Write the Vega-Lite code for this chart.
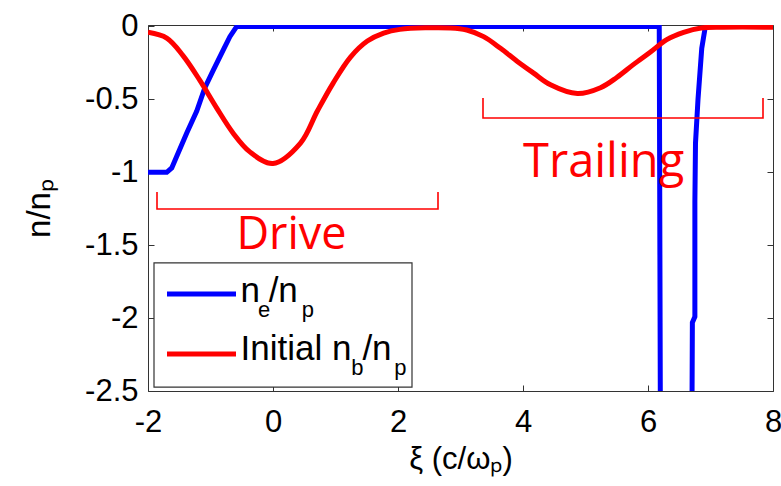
{
  "$schema": "https://vega.github.io/schema/vega-lite/v6.json",
  "width": 625,
  "height": 366,
  "autosize": {"type": "none"},
  "padding": {"left": 148, "top": 25, "right": 8, "bottom": 95},
  "background": "white",
  "config": {
    "view": {"stroke": null},
    "axis": {
      "grid": false,
      "domainColor": "#333333",
      "domainWidth": 1,
      "tickColor": "#333333",
      "tickSize": -6,
      "labelFlush": false,
      "labelFont": "Liberation Sans",
      "labelFontSize": 31,
      "labelColor": "#000000",
      "titleFont": "Liberation Sans",
      "titleFontWeight": "normal",
      "titleColor": "#000000"
    }
  },
  "datasets": {
    "curves": [
      {"series": "ne", "x": -2.0, "y": -1.0},
      {"series": "ne", "x": -1.70, "y": -1.0},
      {"series": "ne", "x": -1.62, "y": -0.97},
      {"series": "ne", "x": -1.54, "y": -0.89},
      {"series": "ne", "x": -1.38, "y": -0.73},
      {"series": "ne", "x": -1.22, "y": -0.58},
      {"series": "ne", "x": -1.09, "y": -0.42},
      {"series": "ne", "x": -0.955, "y": -0.30},
      {"series": "ne", "x": -0.795, "y": -0.16},
      {"series": "ne", "x": -0.69, "y": -0.07},
      {"series": "ne", "x": -0.58, "y": 0.0},
      {"series": "ne", "x": 6.18, "y": 0.0},
      {"series": "ne", "x": 6.20, "y": -3.0},
      {"series": "ne", "x": 6.70, "y": -3.0},
      {"series": "ne", "x": 6.705, "y": -2.5},
      {"series": "ne", "x": 6.71, "y": -2.03},
      {"series": "ne", "x": 6.75, "y": -1.99},
      {"series": "ne", "x": 6.75, "y": -1.2},
      {"series": "ne", "x": 6.76, "y": -0.8},
      {"series": "ne", "x": 6.80, "y": -0.5},
      {"series": "ne", "x": 6.86, "y": -0.15},
      {"series": "ne", "x": 6.91, "y": -0.02},
      {"series": "ne", "x": 6.93, "y": 0.0},
      {"series": "ne", "x": 8.0, "y": 0.0},
      {"series": "nb", "x": -2.0, "y": -0.04},
      {"series": "nb", "x": -1.7, "y": -0.08},
      {"series": "nb", "x": -1.44, "y": -0.20},
      {"series": "nb", "x": -1.17, "y": -0.37},
      {"series": "nb", "x": -0.9, "y": -0.56},
      {"series": "nb", "x": -0.64, "y": -0.73},
      {"series": "nb", "x": -0.37, "y": -0.86},
      {"series": "nb", "x": 0.0, "y": -0.94},
      {"series": "nb", "x": 0.44, "y": -0.80},
      {"series": "nb", "x": 0.71, "y": -0.58},
      {"series": "nb", "x": 0.96, "y": -0.39},
      {"series": "nb", "x": 1.24, "y": -0.21},
      {"series": "nb", "x": 1.51, "y": -0.10},
      {"series": "nb", "x": 1.77, "y": -0.045},
      {"series": "nb", "x": 2.03, "y": -0.02},
      {"series": "nb", "x": 2.84, "y": -0.01},
      {"series": "nb", "x": 3.1, "y": -0.024},
      {"series": "nb", "x": 3.37, "y": -0.07},
      {"series": "nb", "x": 3.64, "y": -0.15},
      {"series": "nb", "x": 3.91, "y": -0.24},
      {"series": "nb", "x": 4.17, "y": -0.32},
      {"series": "nb", "x": 4.44, "y": -0.40},
      {"series": "nb", "x": 4.87, "y": -0.46},
      {"series": "nb", "x": 5.24, "y": -0.42},
      {"series": "nb", "x": 5.5, "y": -0.35},
      {"series": "nb", "x": 5.77, "y": -0.26},
      {"series": "nb", "x": 6.04, "y": -0.175},
      {"series": "nb", "x": 6.3, "y": -0.09},
      {"series": "nb", "x": 6.57, "y": -0.04},
      {"series": "nb", "x": 6.85, "y": -0.01},
      {"series": "nb", "x": 7.2, "y": -0.005},
      {"series": "nb", "x": 8.0, "y": -0.005}
    ],
    "brackets": [
      {"bracket": "drive", "order": 1, "x": -1.856, "y": -1.135},
      {"bracket": "drive", "order": 2, "x": -1.856, "y": -1.252},
      {"bracket": "drive", "order": 3, "x": 2.64, "y": -1.252},
      {"bracket": "drive", "order": 4, "x": 2.64, "y": -1.135},
      {"bracket": "trailing", "order": 1, "x": 3.36, "y": -0.49},
      {"bracket": "trailing", "order": 2, "x": 3.36, "y": -0.628},
      {"bracket": "trailing", "order": 3, "x": 7.84, "y": -0.628},
      {"bracket": "trailing", "order": 4, "x": 7.84, "y": -0.49}
    ],
    "notes": [
      {"name": "drive", "x": 0.296, "y": -1.526, "text": "Drive"},
      {"name": "trailing", "x": 5.29, "y": -1.032, "text": "Trailing"}
    ],
    "box": [
      {"x": -1.904, "x2": 2.224, "y": -1.622, "y2": -2.473}
    ],
    "legendLines": [
      {"series": "ne", "x": -1.696, "x2": -0.592, "y": -1.835},
      {"series": "nb", "x": -1.696, "x2": -0.592, "y": -2.246}
    ],
    "legendText": [
      {"kind": "main", "x": -0.52, "y": -1.890, "text": "n"},
      {"kind": "sub", "x": -0.24, "y": -1.993, "text": "e"},
      {"kind": "main", "x": -0.07, "y": -1.890, "text": "/n"},
      {"kind": "sub", "x": 0.46, "y": -1.993, "text": "p"},
      {"kind": "main", "x": -0.52, "y": -2.287, "text": "Initial n"},
      {"kind": "sub", "x": 1.25, "y": -2.390, "text": "b"},
      {"kind": "main", "x": 1.43, "y": -2.287, "text": "/n"},
      {"kind": "sub", "x": 1.94, "y": -2.390, "text": "p"}
    ]
  },
  "resolve": {"axis": {"x": "independent", "y": "independent"}},
  "layer": [
    {
      "data": {"name": "curves"},
      "transform": [{"filter": "datum.series === 'ne'"}],
      "mark": {"type": "line", "color": "#0000ff", "strokeWidth": 5, "clip": true},
      "encoding": {
        "x": {"field": "x", "type": "quantitative",
          "scale": {"domain": [-2, 8], "nice": false, "zero": false},
          "axis": {"orient": "bottom", "values": [-2, 0, 2, 4, 6, 8], "labelExpr": "toString(datum.value)", "labelPadding": 22, "title": "ξ (c/ωₚ)", "titleFontSize": 31, "titlePadding": 7}},
        "y": {"field": "y", "type": "quantitative",
          "scale": {"domain": [-2.5, 0.01], "nice": false, "zero": false},
          "axis": {"orient": "left", "values": [-2.5, -2, -1.5, -1, -0.5, 0], "labelExpr": "toString(datum.value)", "labelPadding": 16, "title": "n/nₚ", "titleFontSize": 33, "titlePadding": 28}},
        "order": {"field": "x", "type": "quantitative", "sort": null}
      }
    },
    {
      "data": {"name": "curves"},
      "transform": [{"filter": "datum.series === 'nb'"}],
      "mark": {"type": "line", "color": "#ff0000", "strokeWidth": 5, "clip": true, "interpolate": "catmull-rom"},
      "encoding": {
        "x": {"field": "x", "type": "quantitative", "scale": {"domain": [-2, 8], "nice": false, "zero": false}, "axis": null},
        "y": {"field": "y", "type": "quantitative", "scale": {"domain": [-2.5, 0.01], "nice": false, "zero": false}, "axis": null}
      }
    },
    {
      "data": {"name": "curves"},
      "transform": [{"filter": "datum.series === 'nb'"}],
      "mark": {"type": "line", "opacity": 0, "clip": true},
      "encoding": {
        "x": {"field": "x", "type": "quantitative", "scale": {"domain": [-2, 8], "nice": false, "zero": false},
          "axis": {"orient": "top", "values": [-2, 0, 2, 4, 6, 8], "labels": false, "title": null}},
        "y": {"field": "y", "type": "quantitative", "scale": {"domain": [-2.5, 0.01], "nice": false, "zero": false},
          "axis": {"orient": "right", "values": [-2.5, -2, -1.5, -1, -0.5, 0], "labels": false, "title": null}}
      }
    },
    {
      "data": {"name": "brackets"},
      "mark": {"type": "line", "color": "#ff0000", "strokeWidth": 1.6},
      "encoding": {
        "x": {"field": "x", "type": "quantitative", "scale": {"domain": [-2, 8], "nice": false, "zero": false}, "axis": null},
        "y": {"field": "y", "type": "quantitative", "scale": {"domain": [-2.5, 0.01], "nice": false, "zero": false}, "axis": null},
        "detail": {"field": "bracket"},
        "order": {"field": "order", "type": "quantitative"}
      }
    },
    {
      "data": {"name": "notes"},
      "transform": [{"filter": "datum.name === 'drive'"}],
      "mark": {"type": "text", "font": "Open Sans", "fontSize": 45, "color": "#ff0000", "align": "center", "baseline": "alphabetic"},
      "encoding": {
        "x": {"field": "x", "type": "quantitative", "scale": {"domain": [-2, 8], "nice": false, "zero": false}, "axis": null},
        "y": {"field": "y", "type": "quantitative", "scale": {"domain": [-2.5, 0.01], "nice": false, "zero": false}, "axis": null},
        "text": {"field": "text"}
      }
    },
    {
      "data": {"name": "notes"},
      "transform": [{"filter": "datum.name === 'trailing'"}],
      "mark": {"type": "text", "font": "Open Sans", "fontSize": 47, "color": "#ff0000", "align": "center", "baseline": "alphabetic"},
      "encoding": {
        "x": {"field": "x", "type": "quantitative", "scale": {"domain": [-2, 8], "nice": false, "zero": false}, "axis": null},
        "y": {"field": "y", "type": "quantitative", "scale": {"domain": [-2.5, 0.01], "nice": false, "zero": false}, "axis": null},
        "text": {"field": "text"}
      }
    },
    {
      "data": {"name": "box"},
      "mark": {"type": "rect", "fill": "#ffffff", "stroke": "#333333", "strokeWidth": 1.2},
      "encoding": {
        "x": {"field": "x", "type": "quantitative", "scale": {"domain": [-2, 8], "nice": false, "zero": false}, "axis": null},
        "x2": {"field": "x2"},
        "y": {"field": "y", "type": "quantitative", "scale": {"domain": [-2.5, 0.01], "nice": false, "zero": false}, "axis": null},
        "y2": {"field": "y2"}
      }
    },
    {
      "data": {"name": "legendLines"},
      "mark": {"type": "rule", "strokeWidth": 5},
      "encoding": {
        "x": {"field": "x", "type": "quantitative", "scale": {"domain": [-2, 8], "nice": false, "zero": false}, "axis": null},
        "x2": {"field": "x2"},
        "y": {"field": "y", "type": "quantitative", "scale": {"domain": [-2.5, 0.01], "nice": false, "zero": false}, "axis": null},
        "color": {"field": "series", "type": "nominal", "scale": {"domain": ["ne", "nb"], "range": ["#0000ff", "#ff0000"]}, "legend": null}
      }
    },
    {
      "data": {"name": "legendText"},
      "transform": [{"filter": "datum.kind === 'main'"}],
      "mark": {"type": "text", "font": "Liberation Sans", "fontSize": 35, "color": "#000000", "align": "left", "baseline": "alphabetic"},
      "encoding": {
        "x": {"field": "x", "type": "quantitative", "scale": {"domain": [-2, 8], "nice": false, "zero": false}, "axis": null},
        "y": {"field": "y", "type": "quantitative", "scale": {"domain": [-2.5, 0.01], "nice": false, "zero": false}, "axis": null},
        "text": {"field": "text"}
      }
    },
    {
      "data": {"name": "legendText"},
      "transform": [{"filter": "datum.kind === 'sub'"}],
      "mark": {"type": "text", "font": "Liberation Sans", "fontSize": 22, "color": "#000000", "align": "left", "baseline": "alphabetic"},
      "encoding": {
        "x": {"field": "x", "type": "quantitative", "scale": {"domain": [-2, 8], "nice": false, "zero": false}, "axis": null},
        "y": {"field": "y", "type": "quantitative", "scale": {"domain": [-2.5, 0.01], "nice": false, "zero": false}, "axis": null},
        "text": {"field": "text"}
      }
    }
  ]
}
